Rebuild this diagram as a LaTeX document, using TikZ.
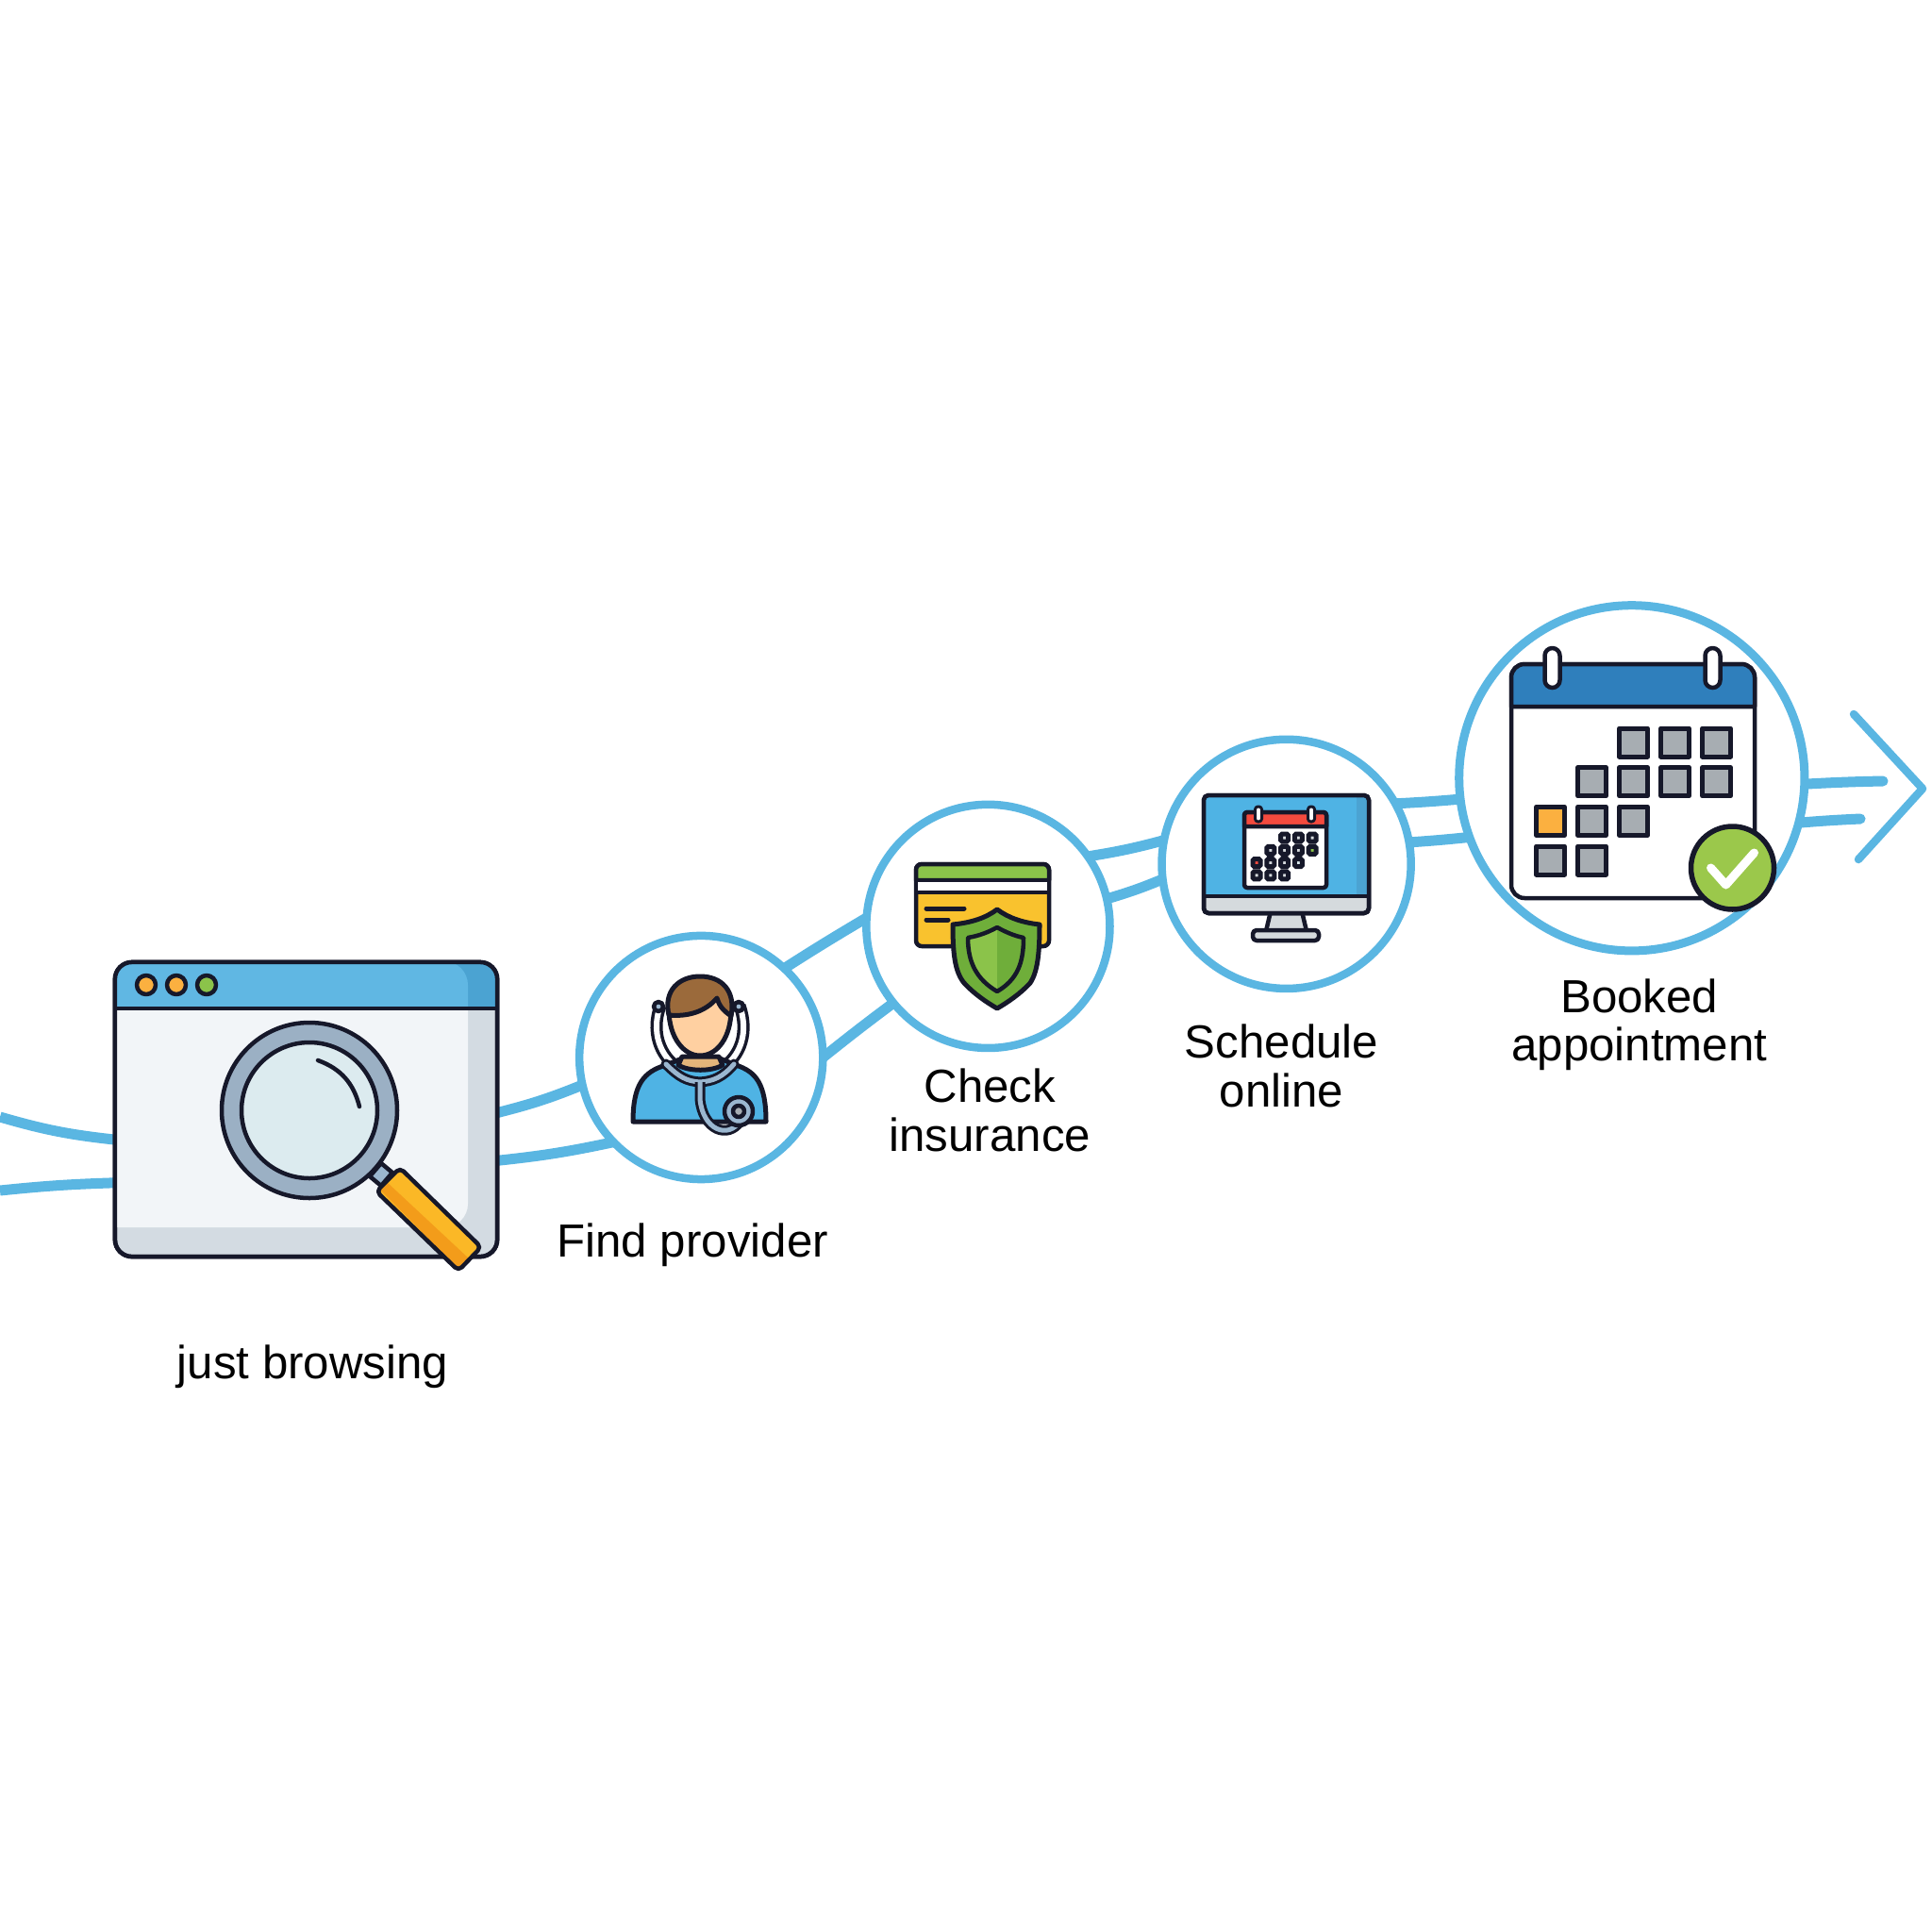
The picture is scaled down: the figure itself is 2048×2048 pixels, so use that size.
\documentclass[tikz,border=0pt]{standalone}
\usepackage{fontspec}
\setmainfont{Liberation Sans}
\usetikzlibrary{positioning}
\definecolor{flow}{HTML}{5AB6E2}
\definecolor{inkc}{HTML}{16182A}
\definecolor{barblue}{HTML}{60B7E3}
\definecolor{bardark}{HTML}{4BA3D2}
\definecolor{shirt}{HTML}{4FB3E4}
\definecolor{pane}{HTML}{F2F5F8}
\definecolor{shade}{HTML}{D3DBE2}
\definecolor{rim}{HTML}{9BB0C4}
\definecolor{glass}{HTML}{DCEBEF}
\definecolor{amber}{HTML}{FBB826}
\definecolor{amberd}{HTML}{F39C1A}
\definecolor{dotor}{HTML}{FBB040}
\definecolor{leaf}{HTML}{8BC34A}
\definecolor{leafd}{HTML}{6FAE3A}
\definecolor{cardy}{HTML}{F9C22E}
\definecolor{skin}{HTML}{FFD0A1}
\definecolor{neckc}{HTML}{E3B57A}
\definecolor{hair}{HTML}{9B6A3B}
\definecolor{steth}{HTML}{9BB7D0}
\definecolor{redbar}{HTML}{F44A3E}
\definecolor{chin}{HTML}{D5DADD}
\definecolor{calblue}{HTML}{2F7FBC}
\definecolor{cellg}{HTML}{A7ADB2}
\definecolor{okgreen}{HTML}{9BC84B}
\pgfdeclarelayer{back}
\pgfsetlayers{back,main}

\begin{document}
\begin{tikzpicture}[x=0.01cm, y=-0.01cm, on grid,
  stage/.style={circle, draw=flow, fill=white, line width=.085cm, minimum size=2.58cm, inner sep=0pt, outer sep=0pt},
  browser/.style={draw=inkc, fill=shade, line width=.045cm, rounded corners=.18cm, minimum width=4.05cm, minimum height=3.12cm, inner sep=0pt, outer sep=0pt},
  lbl/.style={align=center, inner sep=0pt, font=\fontsize{14}{14.6}\selectfont},
  flowline/.style={draw=flow, line width=.11cm},
  chev/.style={draw=flow, line width=.085cm, line cap=round, line join=round},
  ol/.style={draw=inkc, line width=.045cm, line join=round}]
\useasboundingbox (0,0) rectangle (2048,2048);

\node[browser] (win) at (324.5,1176) {};
\node[stage, above right=0.55cm and 4.185cm of win] (s1) {};
\node[stage, above right=1.39cm and 3.04cm of s1] (s2) {};
\node[stage, minimum size=2.64cm, above right=0.66cm and 3.16cm of s2] (s3) {};
\node[stage, minimum size=3.66cm, line width=.09cm, above right=0.91cm and 3.66cm of s3] (s4) {};

\node[lbl, below right=2.73cm and 0.07cm of win] (lb0) {just browsing};
\node[lbl, below left=1.99cm and 0.09cm of s1] (lb1) {Find provider};
\node[lbl, below right=1.95cm and 0.02cm of s2] (lb2) {Check\\insurance};
\node[lbl, below left=2.14cm and 0.05cm of s3] (lb3) {Schedule\\online};
\node[lbl, below right=2.61cm and 0.08cm of s4] (lb4) {Booked\\appointment};

\coordinate (inA) at (0,1184);
\coordinate (inB) at (0,1262);
\coordinate (outA) at (1996,828);
\coordinate (outB) at (1972,868);
\coordinate (tipA) at (1965,757);
\coordinate (tipB) at (2038,836);
\coordinate (tipC) at (1970,911);

\begin{pgfonlayer}{back}
\draw[flowline] (inA) to[bend right=5] (win.189);
\draw[flowline] (inB) to[bend left=2] (win.201);
\draw[flowline] (win.-1) to[bend right=4] (s1.193);
\draw[flowline] (win.-15.6) to[bend right=3] (s1.224);
\draw[flowline] (s1.47) to[bend left=1] (s2.176);
\draw[flowline] (s1.0) to[bend left=1] (s2.219);
\draw[flowline] (s2.35) to[bend right=3] (s3.169);
\draw[flowline] (s2.13) to[bend right=3] (s3.187);
\draw[flowline] (s3.29) to[bend right=1] (s4.187);
\draw[flowline] (s3.10) to[bend right=1] (s4.200);
\draw[flowline, line cap=round] (s4.-2) to[bend left=1] (outA);
\draw[flowline, line cap=round] (s4.-15) to[bend left=1] (outB);
\end{pgfonlayer}
\draw[chev] (tipA) -- (tipB) -- (tipC);

\begin{scope}
\clip[rounded corners=.18cm] (win.north west) rectangle (win.south east);
\fill[pane] (121,1068) -- (496,1068) [rounded corners=.25cm] -- (496,1301) [sharp corners] -- (121,1301) -- cycle;
\fill[bardark] (121,1019) rectangle (528,1068);
\fill[barblue] (121,1019) [rounded corners=.25cm] -- (496,1019) [sharp corners] -- (496,1068) -- (121,1068) -- cycle;
\end{scope}
\draw[ol, rounded corners=.18cm] (win.north west) rectangle (win.south east);
\draw[ol] (121,1069) -- (528,1069);
\foreach \dx/\dc in {155/dotor,187/dotor,219/leaf}
  \draw[ol, fill=\dc] (\dx,1044) circle (10);
\draw[ol, fill=steth] (404,1233) -- (416,1243) -- (404,1257) -- (392,1247) -- cycle;
\draw[ol, fill=rim] (328,1177) circle (93);
\draw[ol, fill=glass] (328,1177) circle (72);
\draw[ol, line cap=round] (337,1124) to[bend left=28] (381,1173);
\fill[amber, rounded corners=.05cm] (424,1238) -- (510,1322) -- (486,1347) -- (399,1263) -- cycle;
\fill[amberd] (402,1260) -- (409,1252) -- (498,1335) -- (486,1345) -- cycle;
\draw[ol, rounded corners=.05cm] (424,1238) -- (510,1322) -- (486,1347) -- (399,1263) -- cycle;

\draw[ol, line width=.13cm] (700,1066) .. controls (688,1100) and (705,1125) .. (722,1134);
\draw[draw=white, line width=.06cm] (700,1066) .. controls (688,1100) and (705,1125) .. (722,1134);
\draw[ol, line width=.13cm] (784,1066) .. controls (796,1100) and (780,1125) .. (762,1134);
\draw[draw=white, line width=.06cm] (784,1066) .. controls (796,1100) and (780,1125) .. (762,1134);
\draw[ol, fill=steth] (698,1067) circle (5) (783,1067) circle (5);
\draw[ol, line width=.05cm, fill=shirt] (671,1189) .. controls (671,1150) and (682,1136) .. (706,1129) -- (723,1122) -- (763,1122) -- (780,1129) .. controls (802,1136) and (812,1150) .. (812,1189) -- cycle;
\draw[ol, line width=.05cm, fill=neckc] (723,1120) -- (762,1120) -- (766,1129) .. controls (755,1136) and (730,1136) .. (719,1129) -- cycle;
\draw[ol, line width=.05cm, fill=skin] (709,1070) .. controls (709,1100) and (725,1119) .. (742,1119) .. controls (760,1119) and (775,1100) .. (775,1070) .. controls (775,1045) and (709,1045) .. (709,1070) -- cycle;
\draw[ol, line width=.05cm, fill=hair] (709,1076) .. controls (703,1050) and (720,1035) .. (742,1035) .. controls (765,1035) and (780,1050) .. (775,1077) .. controls (768,1072) and (763,1068) .. (760,1058) .. controls (748,1072) and (730,1078) .. (709,1076) -- cycle;
\draw[draw=inkc, line width=.11cm, line cap=round] (706,1128) .. controls (720,1142) and (728,1146) .. (742,1147) .. controls (756,1146) and (766,1142) .. (778,1128);
\draw[draw=steth, line width=.05cm, line cap=round] (706,1128) .. controls (720,1142) and (728,1146) .. (742,1147) .. controls (756,1146) and (766,1142) .. (778,1128);
\draw[draw=inkc, line width=.11cm] (742,1147) -- (742,1165) .. controls (745,1198) and (772,1208) .. (785,1188);
\draw[draw=steth, line width=.05cm] (742,1147) -- (742,1165) .. controls (745,1198) and (772,1208) .. (785,1188);
\draw[ol, fill=steth] (783,1178) circle (15);
\draw[ol, fill=cellg] (783,1178) circle (6);

\draw[ol, fill=cardy, rounded corners=.06cm] (971,916) rectangle (1112,1003);
\draw[ol, fill=leaf] (971,933) -- (971,923) [rounded corners=.06cm] -- (971,916) -- (1112,916) [sharp corners] -- (1112,933) -- cycle;
\draw[ol, fill=white] (971,933) rectangle (1112,946);
\draw[draw=inkc, line width=.05cm, line cap=round] (982,963) -- (1022,963) (982,975) -- (1005,975);
\draw[ol, fill=leafd, line width=.05cm] (1057,964) .. controls (1045,973) and (1030,978) .. (1010,980) .. controls (1010,1010) and (1012,1030) .. (1022,1042) .. controls (1032,1053) and (1045,1062) .. (1057,1069) .. controls (1069,1062) and (1082,1053) .. (1092,1042) .. controls (1100,1030) and (1102,1010) .. (1102,980) .. controls (1084,978) and (1069,973) .. (1057,964) -- cycle;
\fill[leaf] (1057,983) -- (1026,994) .. controls (1026,1020) and (1035,1038) .. (1057,1051) -- cycle;
\fill[leafd] (1057,983) -- (1085,994) .. controls (1085,1020) and (1079,1038) .. (1057,1051) -- cycle;
\draw[ol] (1057,983) .. controls (1048,988) and (1038,992) .. (1026,994) .. controls (1026,1020) and (1035,1038) .. (1057,1051) .. controls (1079,1038) and (1085,1020) .. (1085,994) .. controls (1075,992) and (1066,988) .. (1057,983) -- cycle;

\draw[ol, fill=chin] (1347,966) -- (1342,987) -- (1385,987) -- (1380,966) -- cycle;
\draw[ol, fill=chin, rounded corners=.04cm] (1328,986) rectangle (1398,997);
\draw[ol, fill=chin, rounded corners=.05cm] (1276,843) rectangle (1451,968);
\begin{scope}
\clip[rounded corners=.05cm] (1276,843) rectangle (1451,968);
\fill[shirt] (1276,843) rectangle (1451,950);
\fill[bardark] (1438,843) rectangle (1451,950);
\end{scope}
\draw[ol, rounded corners=.05cm] (1276,843) rectangle (1451,968);
\draw[ol] (1276,950) -- (1451,950);
\draw[ol, fill=white, rounded corners=.03cm] (1319,861) rectangle (1406,941);
\draw[ol, fill=redbar] (1319,876) -- (1319,865) [rounded corners=.03cm] -- (1319,861) -- (1406,861) [sharp corners] -- (1406,876) -- cycle;
\foreach \rx in {1334,1390}
  \draw[ol, fill=white, line width=.03cm, rounded corners=.03cm] (\rx-3.5,855) rectangle (\rx+3.5,871);
\foreach \cx/\cy/\cc in {3/1/chin,4/1/chin,5/1/chin,2/2/chin,3/2/chin,4/2/chin,5/2/leaf,1/3/redbar,2/3/chin,3/3/chin,4/3/glass,1/4/chin,2/4/chin,3/4/chin}
  \draw[draw=inkc, line width=.05cm, fill=\cc, rounded corners=.015cm] ({1332+14.8*(\cx-1)-4},{888+13.3*(\cy-1)-4}) rectangle +(8,8);

\draw[ol, fill=white, rounded corners=.14cm] (1602,704) rectangle (1860,952);
\draw[ol, fill=calblue] (1602,749) -- (1602,720) [rounded corners=.14cm] -- (1602,704) -- (1860,704) [sharp corners] -- (1860,749) -- cycle;
\foreach \rx in {1645.5,1815.5}
  \draw[ol, fill=white, rounded corners=.08cm] (\rx-8,687) rectangle (\rx+8,729);
\foreach \cx/\cy/\cc in {3/1/cellg,4/1/cellg,5/1/cellg,2/2/cellg,3/2/cellg,4/2/cellg,5/2/cellg,1/3/dotor,2/3/cellg,3/3/cellg,1/4/cellg,2/4/cellg}
  \draw[ol, line width=.05cm, fill=\cc] ({1643.5+44*(\cx-1)-15},{787+41.7*(\cy-1)-15}) rectangle +(30,30);
\draw[ol, fill=okgreen, line width=.055cm] (1836.5,920) circle (44);
\draw[draw=white, line width=.09cm, line cap=round, line join=round] (1813.5,920) -- (1829.5,938) -- (1859.5,904);
\end{tikzpicture}
\end{document}
